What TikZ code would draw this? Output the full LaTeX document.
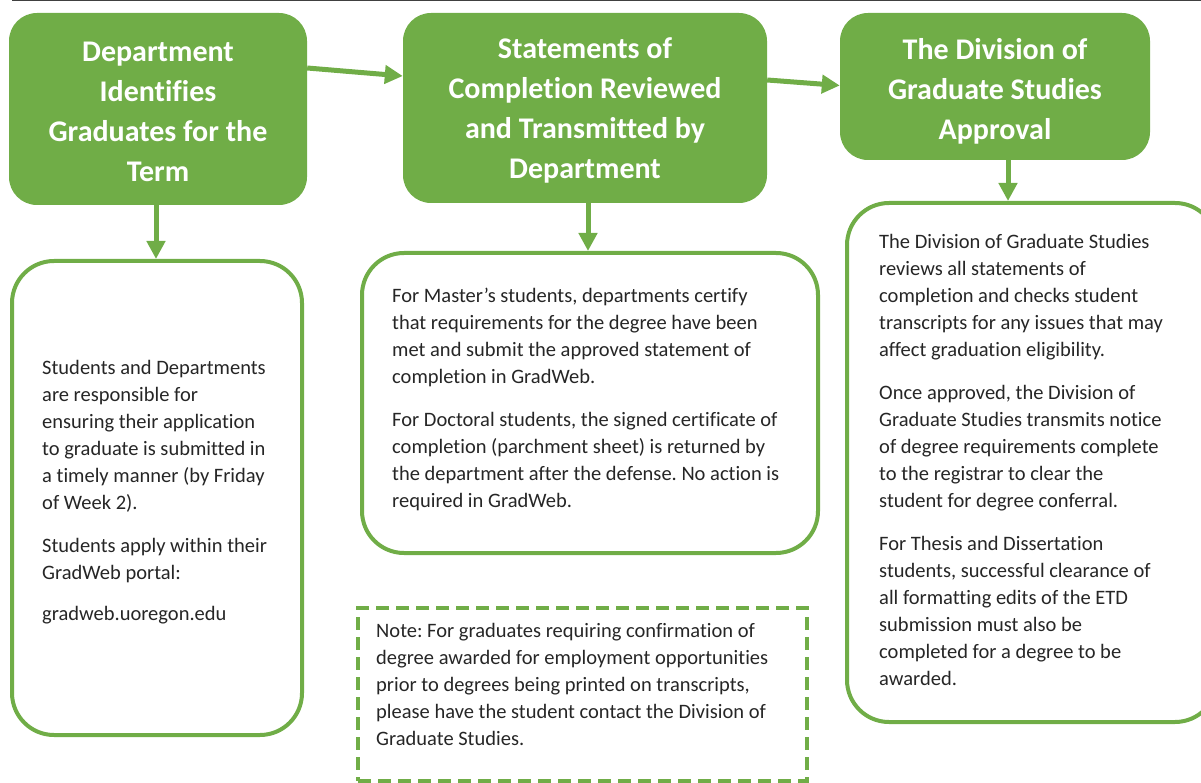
\documentclass[tikz,border=0pt]{standalone}
\usepackage{fontspec}
\setmainfont{Carlito}[Ligatures={NoCommon}]
\usetikzlibrary{arrows.meta}
\definecolor{grn}{HTML}{70AD47}
\definecolor{txt}{HTML}{262626}
\frenchspacing
\begin{document}
\begin{tikzpicture}[x=1pt,y=-1pt,
 head/.style={fill=grn, rounded corners=28pt, text=white, font=\fontsize{30}{40}\selectfont\bfseries, align=center, inner sep=0pt},
 card/.style={draw=grn, line width=4pt, rounded corners=42pt, fill=white, inner sep=0pt},
 notebox/.style={draw=grn, line width=3.5pt, dash pattern=on 13pt off 7pt, inner sep=0pt},
 body/.style={text=txt, font=\fontsize{20.5}{27}\selectfont, align=left, anchor=north west, inner sep=0pt, yshift=18.9pt},
 arr/.style={draw=grn, line width=5pt, -{Triangle[width=18pt,length=18pt]}}]
\useasboundingbox (0,0) rectangle (1201,783);
\draw[line width=2pt, draw=black!75] (12,0.5) -- (1201,0.5);

% green headers
\node[head, minimum width=298pt, minimum height=192pt] (g1) at (158,109) {\rule{0pt}{26pt}Department\\Identifies\\Graduates for the\\Term};
\node[head, minimum width=364pt, minimum height=190pt] (g2) at (585,108) {\rule{0pt}{26pt}Statements of\\Completion Reviewed\\and Transmitted by\\Department};
\node[head, minimum width=310pt, minimum height=147pt] (g3) at (995,86.5) {\rule{0pt}{30pt}The Division of\\Graduate Studies\\Approval};

% white cards
\node[card, minimum width=290pt, minimum height=474pt] (wA) at (157,498) {};
\node[card, minimum width=456pt, minimum height=300pt] (wB) at (590,403) {};
\node[card, minimum width=370pt, minimum height=519pt] (wC) at (1032,462.5) {};
\node[notebox, minimum width=449pt, minimum height=173pt] (nt) at (582.5,694.5) {};

% texts (position = baseline of first line)
\node[body] (tA) at (42,374) {\strut Students and Departments\\are responsible for\\ensuring their application\\to graduate is submitted in\\a timely manner (by Friday\\of Week 2).\\[16pt]Students apply within their\\GradWeb portal:\\[14pt]gradweb.uoregon.edu};
\node[body] (tB) at (392,302) {\strut For Master’s students, departments certify\\that requirements for the degree have been\\met and submit the approved statement of\\completion in GradWeb.\\[16pt]For Doctoral students, the signed certificate of\\completion (parchment sheet) is returned by\\the department after the defense. No action is\\required in GradWeb.};
\node[body] (tC) at (879,248) {\strut The Division of Graduate Studies\\reviews all statements of\\completion and checks student\\transcripts for any issues that may\\affect graduation eligibility.\\[16pt]Once approved, the Division of\\Graduate Studies transmits notice\\of degree requirements complete\\to the registrar to clear the\\student for degree conferral.\\[16pt]For Thesis and Dissertation\\students, successful clearance of\\all formatting edits of the ETD\\submission must also be\\completed for a degree to be\\awarded.};
\node[body] (tN) at (376,637) {\strut Note: For graduates requiring confirmation of\\degree awarded for employment opportunities\\prior to degrees being printed on transcripts,\\please have the student contact the Division of\\Graduate Studies.};

% connectors
\draw[arr] ([yshift=41pt]g1.east) -- ([yshift=32pt]g2.west);
\draw[arr] ([yshift=28pt]g2.east) -- ([yshift=1pt]g3.west);
\draw[arr] ([xshift=-2pt]g1.south) -- ([xshift=-2pt]g1.south |- wA.north);
\draw[arr] ([xshift=3pt]g2.south) -- ([xshift=3pt]g2.south |- wB.north);
\draw[arr] ([xshift=13pt]g3.south) -- ([xshift=13pt]g3.south |- wC.north);
\end{tikzpicture}
\end{document}
